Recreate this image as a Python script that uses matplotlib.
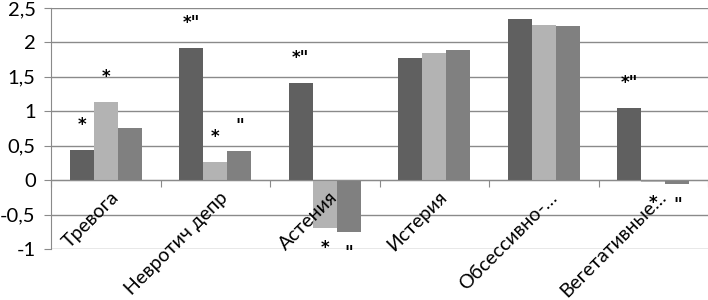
import matplotlib
matplotlib.use("Agg")
import matplotlib.pyplot as plt
import numpy as np
from matplotlib.ticker import FuncFormatter, FixedLocator, NullFormatter

categories = ["Тревога", "Невротич депр", "Астения", "Истерия", "Обсессивно-…", "Вегетативные…"]
series_a = [0.44, 1.92, 1.41, 1.77, 2.34, 1.05]
series_b = [1.14, 0.27, -0.69, 1.84, 2.26, -0.03]
series_c = [0.76, 0.43, -0.75, 1.89, 2.24, -0.06]
marks_a = ["*", '*"', '*"', "", "", '*"']
marks_b = ["*", "*", "*", "", "", "*"]
marks_c = ["", '"', '"', "", "", '"']
yticks = [-1, -0.5, 0, 0.5, 1, 1.5, 2, 2.5]

colors = ["#606060", "#b3b3b3", "#808080"]

plt.rcParams['font.family'] = ['Lato', 'DejaVu Sans']

fig = plt.figure(figsize=(7.08, 3.0), dpi=100)
ax = fig.add_axes([51/708, 51/300, (708-51)/708, (249-8)/300])
ax.set_axisbelow(True)

n = len(categories)
x = np.arange(n)
w = 0.22
for i, (vals, marks, c) in enumerate(zip([series_a, series_b, series_c],
                                        [marks_a, marks_b, marks_c], colors)):
    xs = x + (i - 1) * w
    ax.bar(xs, vals, width=w, color=c, zorder=2, linewidth=0)
    for xi, v, m in zip(xs, vals, marks):
        if not m:
            continue
        off = 18 if v >= 0 else -15
        ax.annotate(m, (xi, v), xytext=(0, off), textcoords="offset points",
                    ha="center", va="center", fontsize=12, fontweight="bold",
                    color="#000000", family="DejaVu Sans", zorder=6)

ax.set_xlim(-0.5, n - 0.5)
ax.set_ylim(-1, 2.5)
ax.set_yticks(yticks)
ax.yaxis.set_major_formatter(FuncFormatter(lambda v, p: ("%g" % v).replace(".", ",")))
ax.grid(axis="y", color="#8a8a8a", linewidth=1.0)
ax.tick_params(axis="y", length=5, color="#8a8a8a", labelsize=14.5, pad=6)

for s in ["top", "right"]:
    ax.spines[s].set_visible(False)
ax.spines["left"].set_color("#8a8a8a")
ax.spines["bottom"].set_position(("data", 0))
ax.spines["bottom"].set_color("#8a8a8a")
ax.spines["bottom"].set_zorder(4)

ax.xaxis.set_major_locator(FixedLocator(np.arange(n + 1) - 0.5))
ax.xaxis.set_major_formatter(NullFormatter())
ax.tick_params(axis="x", which="major", length=5, color="#8a8a8a", direction="out")

for xi, lab in zip(x, categories):
    ax.annotate(lab, (xi, 0), xytext=(3, -6), textcoords="offset points",
                rotation=45, ha="right", va="top", rotation_mode="anchor",
                fontsize=14, color="#000000", zorder=7, annotation_clip=False)

fig.savefig("out.png", dpi=100)
